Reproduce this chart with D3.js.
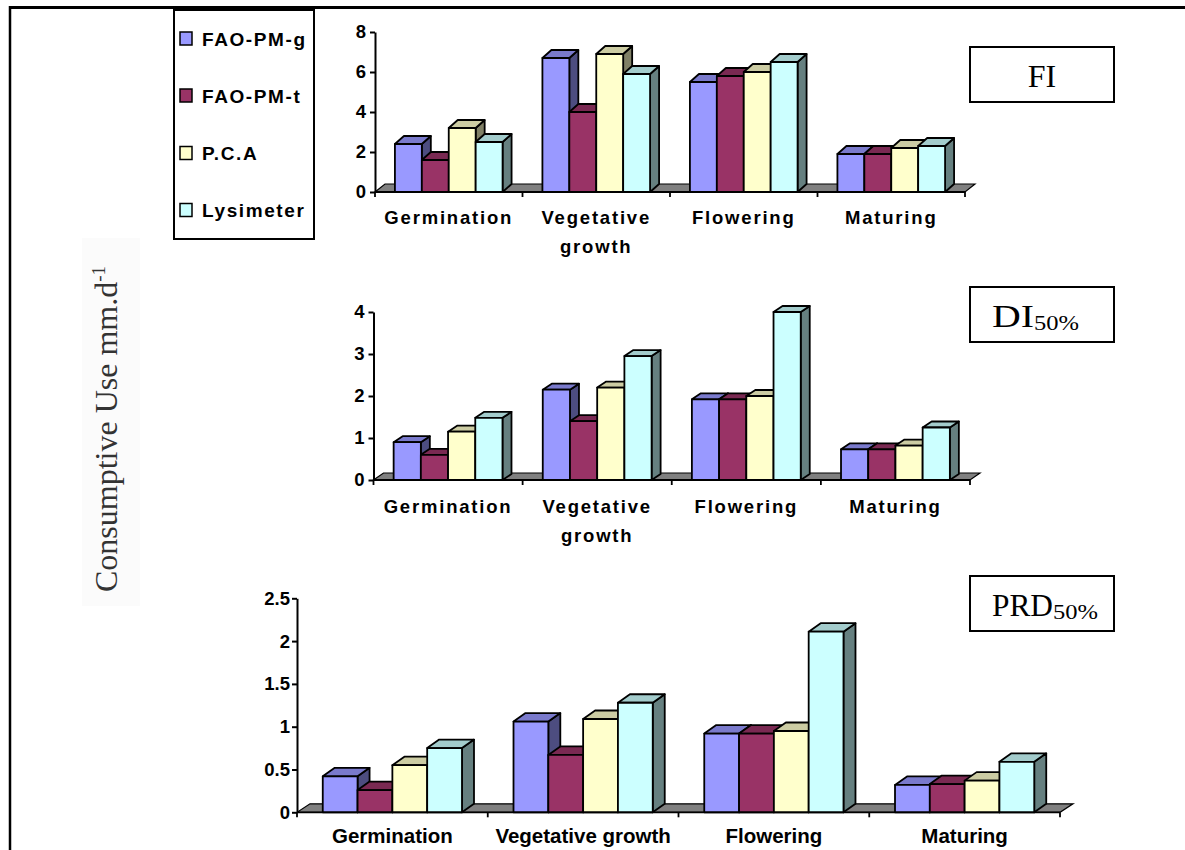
<!DOCTYPE html>
<html>
<head>
<meta charset="utf-8">
<script src="https://cdn.jsdelivr.net/npm/d3@7"></script>
<style>
  html, body { margin: 0; padding: 0; background: #fff; }
  svg { display: block; }
  .tick text { font-family: "Liberation Sans", Arial, sans-serif; font-weight: bold; font-size: 18.5px; fill: #000; }
</style>
</head>
<body>
<svg id="chart" width="1185" height="850"></svg>
<script>
// Growth stages and the four estimation methods
const stages = ["Germination", "Vegetative growth", "Flowering", "Maturing"];
const methods = ["FAO-PM-g", "FAO-PM-t", "P.C.A", "Lysimeter"];

// Full irrigation (FI), mm/day
const fiFaoPmG = [2.4, 6.7, 5.5, 1.9];
const fiFaoPmT = [1.6, 4.0, 5.8, 1.9];
const fiPca = [3.2, 6.9, 6.0, 2.2];
const fiLysimeter = [2.5, 5.9, 6.5, 2.3];
const fiTicks = [0, 2, 4, 6, 8];

// Deficit irrigation 50% (DI50%), mm/day
const diFaoPmG = [0.9, 2.15, 1.92, 0.73];
const diFaoPmT = [0.6, 1.4, 1.92, 0.73];
const diPca = [1.15, 2.2, 2.0, 0.82];
const diLysimeter = [1.48, 2.95, 4.0, 1.25];
const diTicks = [0, 1, 2, 3, 4];

// Partial root-zone drying 50% (PRD50%), mm/day
const prdFaoPmG = [0.42, 1.06, 0.92, 0.32];
const prdFaoPmT = [0.26, 0.67, 0.92, 0.33];
const prdPca = [0.55, 1.09, 0.95, 0.37];
const prdLysimeter = [0.75, 1.28, 2.11, 0.59];
const prdTicks = [0, 0.5, 1, 1.5, 2, 2.5];

const methodColors = ["#9999FF", "#993366", "#FFFFCC", "#CCFFFF"];

const svg = d3.select("#chart");
const sans = '"Liberation Sans", Arial, sans-serif';
const serif = '"Liberation Serif", "Times New Roman", serif';

function shade(c, k) {
  const r = d3.rgb(c);
  return d3.rgb(r.r * k, r.g * k, r.b * k).formatHex();
}

// Outer frame (top and left edges)
svg.append("line").attr("x1", 9).attr("x2", 1185).attr("y1", 7.5).attr("y2", 7.5)
  .attr("stroke", "#000").attr("stroke-width", 3);
svg.append("line").attr("x1", 10).attr("x2", 10).attr("y1", 6).attr("y2", 850)
  .attr("stroke", "#000").attr("stroke-width", 2.5);

function drawPanel(cfg) {
  const g = svg.append("g");
  const x = d3.scaleBand().domain(stages).range([cfg.x0, cfg.x1]).padding(0);
  const inner = d3.scaleBand().domain(methods).range([0, x.bandwidth()])
    .paddingInner(0).paddingOuter(0.74);
  const y = d3.scaleLinear().domain([0, d3.max(cfg.ticks)]).range([cfg.y0, cfg.yTop]);
  const y0 = y(0);

  // floor
  const [fdx, fdy] = cfg.floorDepth;
  g.append("polygon")
    .attr("points", [[cfg.x0, y0], [cfg.x1, y0], [cfg.x1 + fdx, y0 - fdy], [cfg.x0 + fdx, y0 - fdy]].join(" "))
    .attr("fill", "#808080").attr("stroke", "#000").attr("stroke-width", 1.2);

  // bars, drawn left to right so nearer faces overlap
  const [bdx, bdy] = cfg.barDepth;
  const rows = [];
  stages.forEach((s, i) => {
    methods.forEach((m, j) => {
      rows.push({ stage: s, method: m, value: cfg.series[j][i], color: methodColors[j] });
    });
  });
  const bw = inner.bandwidth();
  const bar = g.selectAll("g.bar").data(rows).join("g").attr("class", "bar");
  bar.each(function (d) {
    const b = d3.select(this);
    const xl = x(d.stage) + inner(d.method);
    const xr = xl + bw;
    const yt = y(d.value);
    const common = sel => sel.attr("stroke", "#000").attr("stroke-width", 1.8).attr("stroke-linejoin", "round");
    b.append("polygon")
      .attr("points", [[xr, y0], [xr + bdx, y0 - bdy], [xr + bdx, yt - bdy], [xr, yt]].join(" "))
      .attr("fill", shade(d.color, 0.5)).call(common);
    b.append("polygon")
      .attr("points", [[xl, yt], [xr, yt], [xr + bdx, yt - bdy], [xl + bdx, yt - bdy]].join(" "))
      .attr("fill", shade(d.color, 0.8)).call(common);
    b.append("rect")
      .attr("x", xl).attr("y", yt).attr("width", bw).attr("height", y0 - yt)
      .attr("fill", d.color).call(common);
  });

  // value axis
  const axis = d3.axisLeft(y).tickValues(cfg.ticks).tickSize(5).tickSizeOuter(0)
    .tickPadding(cfg.tickPad).tickFormat(d => String(d));
  const ag = g.append("g").attr("transform", `translate(${cfg.x0},0)`).call(axis);
  ag.select(".domain").attr("stroke", "#000").attr("stroke-width", 2);
  ag.selectAll(".tick line").attr("stroke", "#000").attr("stroke-width", 2);

  // category boundary ticks along the front edge of the floor
  const bounds = stages.map(s => x(s)).concat([cfg.x1]);
  g.selectAll("line.ctick").data(bounds).join("line").attr("class", "ctick")
    .attr("x1", d => d).attr("x2", d => d).attr("y1", y0).attr("y2", y0 + 5)
    .attr("stroke", "#000").attr("stroke-width", 1.8);
  g.append("line").attr("x1", cfg.x0).attr("x2", cfg.x1).attr("y1", y0).attr("y2", y0)
    .attr("stroke", "#000").attr("stroke-width", 1.8);

  // category labels
  stages.forEach(s => {
    const lines = cfg.wrap ? s.split(" ") : [s];
    const t = g.append("text")
      .attr("x", x(s) + x.bandwidth() / 2).attr("y", cfg.labelY)
      .attr("text-anchor", "middle")
      .attr("font-family", sans).attr("font-weight", "bold")
      .attr("font-size", cfg.labelSize).attr("letter-spacing", cfg.labelSpacing);
    lines.forEach((ln, k) => {
      t.append("tspan").attr("x", x(s) + x.bandwidth() / 2).attr("dy", k === 0 ? 0 : cfg.lineGap).text(ln);
    });
  });

  // panel name box
  g.append("rect").attr("x", 970).attr("y", cfg.boxY).attr("width", 144).attr("height", 55)
    .attr("fill", "#fff").attr("stroke", "#000").attr("stroke-width", 2);
  const nt = g.append("text").attr("y", cfg.boxY + 39.5)
    .attr("font-family", serif).attr("font-size", 32).attr("fill", "#000");
  if (cfg.sub) {
    nt.attr("x", 992);
    nt.append("tspan").text(cfg.name).attr("textLength", cfg.nameLen).attr("lengthAdjust", "spacingAndGlyphs");
    nt.append("tspan").attr("font-size", 20).attr("dy", 3).text(cfg.sub)
      .attr("textLength", 45).attr("lengthAdjust", "spacingAndGlyphs");
  } else {
    nt.attr("x", 1042).attr("text-anchor", "middle").text(cfg.name);
  }
}

drawPanel({
  series: [fiFaoPmG, fiFaoPmT, fiPca, fiLysimeter], ticks: fiTicks,
  x0: 375, x1: 965, y0: 192, yTop: 32,
  floorDepth: [10, 8], barDepth: [9, 8], tickPad: 4,
  wrap: true, labelY: 224, lineGap: 29, labelSize: 18.5, labelSpacing: 1.8,
  boxY: 47, name: "FI"
});

drawPanel({
  series: [diFaoPmG, diFaoPmT, diPca, diLysimeter], ticks: diTicks,
  x0: 373.5, x1: 970, y0: 480, yTop: 312,
  floorDepth: [10, 7], barDepth: [9, 6], tickPad: 4,
  wrap: true, labelY: 512.5, lineGap: 29, labelSize: 18.5, labelSpacing: 1.8,
  boxY: 287, name: "DI", nameLen: 42, sub: "50%"
});

drawPanel({
  series: [prdFaoPmG, prdFaoPmT, prdPca, prdLysimeter], ticks: prdTicks,
  x0: 297, x1: 1060, y0: 812.3, yTop: 598.3,
  floorDepth: [13, 8.5], barDepth: [12, 8.5], tickPad: 2,
  wrap: false, labelY: 843, lineGap: 0, labelSize: 20.5, labelSpacing: 0,
  boxY: 576, name: "PRD", nameLen: 61, sub: "50%"
});

// legend
const legend = svg.append("g");
legend.append("rect").attr("x", 174).attr("y", 10).attr("width", 140).attr("height", 229)
  .attr("fill", "#fff").attr("stroke", "#000").attr("stroke-width", 2);
const legendRowY = [38.5, 95.5, 153, 210];
methods.forEach((m, i) => {
  legend.append("rect").attr("x", 180).attr("y", legendRowY[i] - 6.5).attr("width", 12).attr("height", 13)
    .attr("fill", methodColors[i]).attr("stroke", "#000").attr("stroke-width", 1.5);
  legend.append("text").attr("x", 202).attr("y", legendRowY[i] + 7)
    .attr("font-family", sans).attr("font-weight", "bold").attr("font-size", 19)
    .attr("letter-spacing", 1.6).text(m);
});

// shared value-axis title
svg.append("rect").attr("x", 82).attr("y", 238).attr("width", 58).attr("height", 368).attr("fill", "#fbfbfb");
const yt = svg.append("text").attr("transform", "translate(117,592) rotate(-90)")
  .attr("font-family", serif).attr("font-size", 32).attr("fill", "#333");
yt.append("tspan").text("Consumptive Use mm.d");
yt.append("tspan").attr("font-size", 19).attr("dy", -12).text("-1");
</script>
</body>
</html>
